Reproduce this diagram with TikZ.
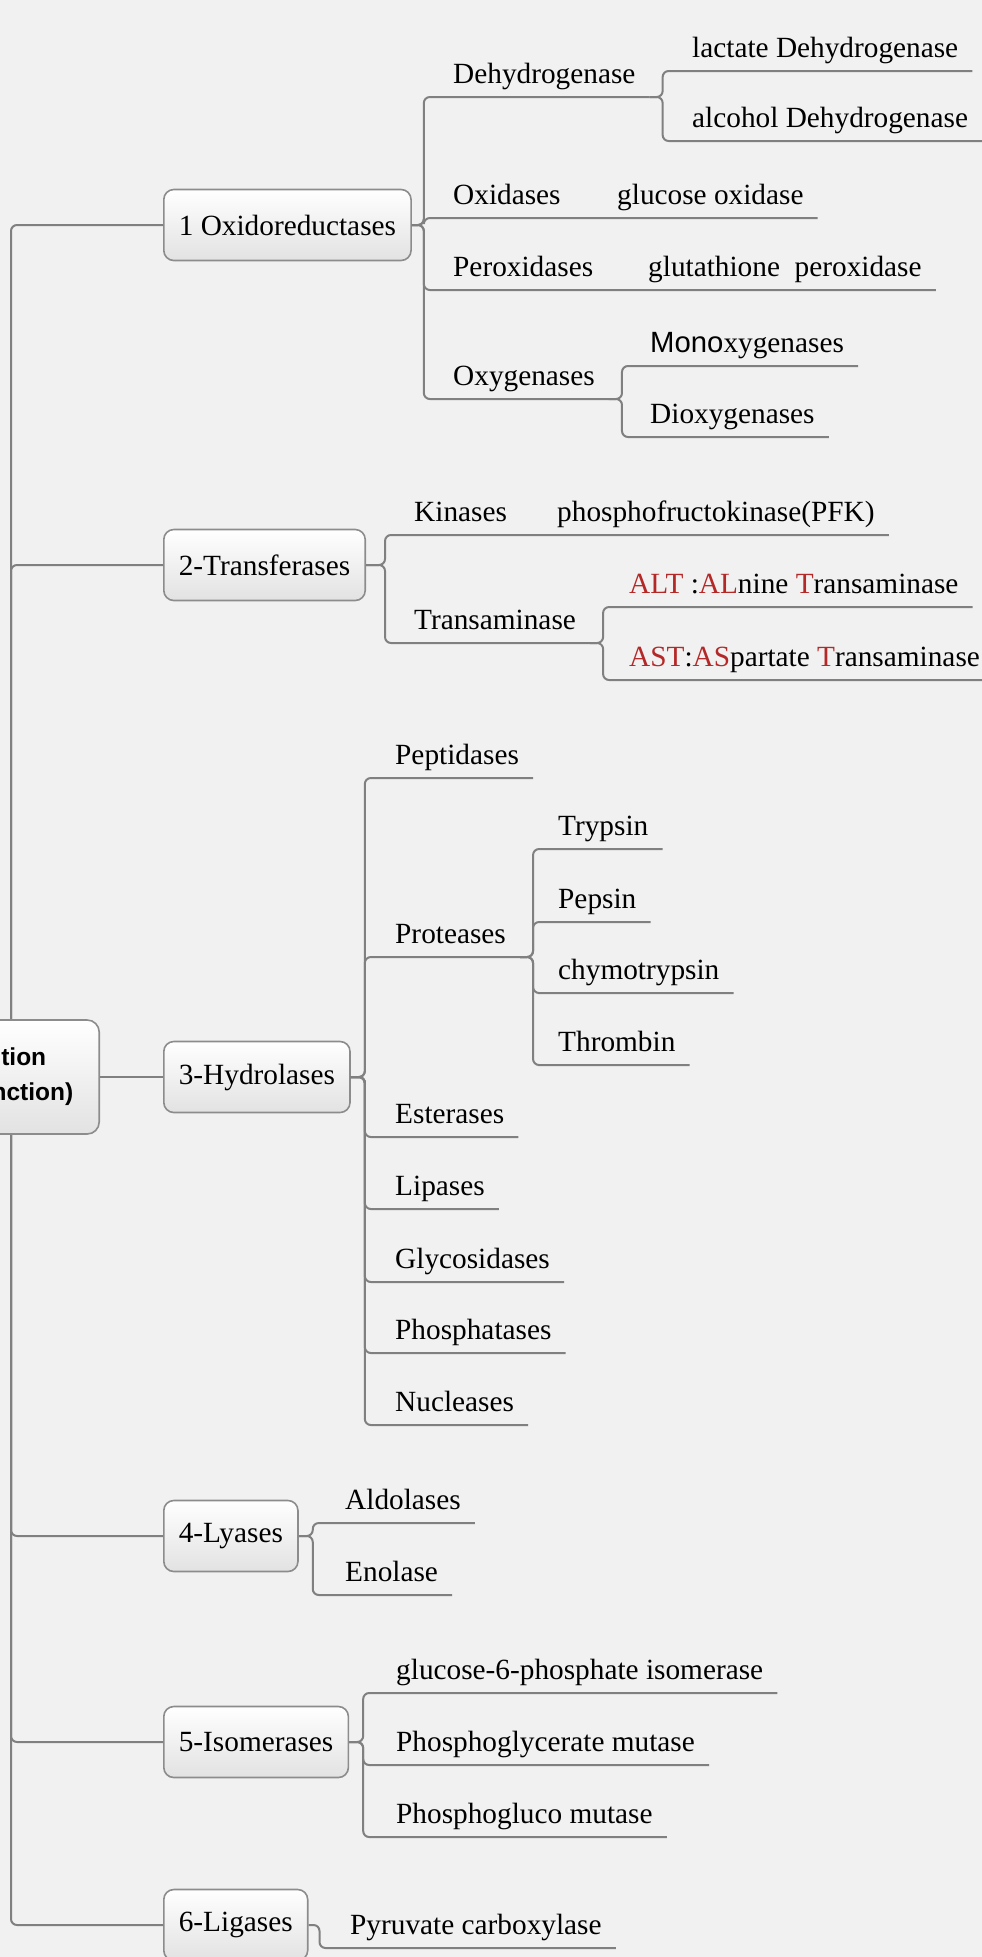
\documentclass[tikz,border=0pt]{standalone}
\usepackage{fontspec}
\setmainfont{Liberation Serif}
\setsansfont{Liberation Sans}
\usepackage{tikz}

\definecolor{bggray}{RGB}{241,241,241}
\definecolor{linegray}{RGB}{128,128,128}
\definecolor{boxgray}{RGB}{140,140,140}
\definecolor{boxshade}{RGB}{226,226,226}
\definecolor{altred}{RGB}{180,40,40}

\tikzset{
  link/.style={draw=linegray, line width=2pt, rounded corners=6pt},
  classbox/.style={draw=boxgray, line width=1.6pt, rounded corners=10pt,
    top color=white, bottom color=boxshade, minimum height=71pt,
    inner xsep=15pt, anchor=west},
  rootbox/.style={classbox, rounded corners=12pt, anchor=east,
    minimum height=114pt, inner xsep=26pt, text width=193pt, align=right,
    font=\sffamily\bfseries\fontsize{24.5}{35}\selectfont},
  leaf/.style={anchor=south west, inner xsep=14pt, inner ysep=6pt, text depth=7pt},
}

\begin{document}
\begin{tikzpicture}[x=1pt, y=-1pt]

  \fontsize{29.3}{35}\selectfont

  \newcommand\XTRUNK{11}
  \newcommand\XBOX{163}

  \useasboundingbox (0,0) rectangle (982,1957);
  \clip (0,0) rectangle (982,1957);
  \fill[bggray] (0,0) rectangle (982,1957);

  % classes
  \node[classbox] (ox)  at (\XBOX, 225)  {1 Oxidoreductases};
  \node[classbox] (tr)  at (\XBOX, 565)  {2-Transferases};
  \node[classbox] (hyd) at (\XBOX, 1077) {3-Hydrolases};
  \node[classbox] (ly)  at (\XBOX, 1536) {4-Lyases};
  \node[classbox] (iso) at (\XBOX, 1742) {5-Isomerases};
  \node[classbox] (lig) at (\XBOX, 1925) {6-Ligases};

  % 1
  \node[leaf] (dh)   at (439, 97)  {Dehydrogenase};
  \node[leaf] (ldh)  at (678, 71)  {lactate Dehydrogenase};
  \node[leaf] (adh)  at (678, 141) {alcohol Dehydrogenase};
  \node[leaf] (oxi)  at (439, 218) {Oxidases};
  \node[leaf] (gox)  at (603, 218) {glucose oxidase};
  \node[leaf] (per)  at (439, 290) {Peroxidases};
  \node[leaf] (gpx)  at (634, 290) {glutathione\ \ peroxidase};
  \node[leaf] (oxy)  at (439, 399) {Oxygenases};
  \node[leaf] (mono) at (636, 366) {{\sffamily Mono}xygenases};
  \node[leaf] (dio)  at (636, 437) {Dioxygenases};

  % 2
  \node[leaf] (kin) at (400, 535) {Kinases};
  \node[leaf] (pfk) at (543, 535) {phosphofructokinase(PFK)};
  \node[leaf] (tra) at (400, 643) {Transaminase};
  \node[leaf] (alt) at (615, 607)
    {\textcolor{altred}{ALT} :\textcolor{altred}{AL}nine \textcolor{altred}{T}ransaminase};
  \node[leaf] (ast) at (615, 680)
    {\textcolor{altred}{AST}:\textcolor{altred}{AS}partate \textcolor{altred}{T}ransaminase};

  % 3
  \node[leaf] (pep) at (381, 778)  {Peptidases};
  \node[leaf] (pro) at (381, 957)  {Proteases};
  \node[leaf] (try) at (544, 849)  {Trypsin};
  \node[leaf] (psn) at (544, 922)  {Pepsin};
  \node[leaf] (chy) at (544, 993)  {chymotrypsin};
  \node[leaf] (thr) at (544, 1065) {Thrombin};
  \node[leaf] (est) at (381, 1137) {Esterases};
  \node[leaf] (lip) at (381, 1209) {Lipases};
  \node[leaf] (gly) at (381, 1282) {Glycosidases};
  \node[leaf] (pho) at (381, 1353) {Phosphatases};
  \node[leaf] (nuc) at (381, 1425) {Nucleases};

  % 4
  \node[leaf] (ald) at (331, 1523) {Aldolases};
  \node[leaf] (eno) at (331, 1595) {Enolase};

  % 5
  \node[leaf] (g6p)  at (382, 1693) {glucose-6-phosphate isomerase};
  \node[leaf] (pgm)  at (382, 1765) {Phosphoglycerate mutase};
  \node[leaf] (pglm) at (382, 1837) {Phosphogluco mutase};

  % 6
  \node[leaf] (pyr) at (336, 1948) {Pyruvate carboxylase};

  % trunk
  \coordinate (trunk) at (\XTRUNK, 1077);
  \foreach \cls in {ox,tr,ly,iso,lig}
    \draw[link] (\cls.west) -| (trunk);

  \node[rootbox] (root) at (100, 1077) {tion\rule{27pt}{0pt}\\nction)};
  \draw[link] (root.east) -- (hyd.west);

  % branches
  \foreach \a/\b in {dh/dh, oxi/gox, per/gpx, oxy/oxy}
    \draw[link] (ox.east) -- ++(12,0) |- (\a.south west) -- (\b.south east);
  \foreach \leaf in {ldh, adh}
    \draw[link] (dh.south east) -- ++(13,0) |- (\leaf.south west) -- (\leaf.south east);
  \foreach \leaf in {mono, dio}
    \draw[link] (oxy.south east) -- ++(13,0) |- (\leaf.south west) -- (\leaf.south east);

  \foreach \a/\b in {kin/pfk, tra/tra}
    \draw[link] (tr.east) -- ++(19,0) |- (\a.south west) -- (\b.south east);
  \foreach \leaf in {alt, ast}
    \draw[link] (tra.south east) -- ++(13,0) |- (\leaf.south west) -- (\leaf.south east);

  \foreach \leaf in {pep, pro, est, lip, gly, pho, nuc}
    \draw[link] (hyd.east) -- ++(14,0) |- (\leaf.south west) -- (\leaf.south east);
  \foreach \leaf in {try, psn, chy, thr}
    \draw[link] (pro.south east) -- ++(13,0) |- (\leaf.south west) -- (\leaf.south east);

  \foreach \leaf in {ald, eno}
    \draw[link] (ly.east) -- ++(14,0) |- (\leaf.south west) -- (\leaf.south east);

  \foreach \leaf in {g6p, pgm, pglm}
    \draw[link] (iso.east) -- ++(14,0) |- (\leaf.south west) -- (\leaf.south east);

  \draw[link] (lig.east) -- ++(11,0) |- (pyr.south west) -- (pyr.south east);

\end{tikzpicture}
\end{document}
